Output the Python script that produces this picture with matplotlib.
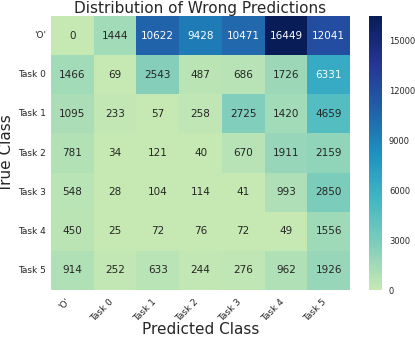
import numpy as np
import matplotlib
matplotlib.use("Agg")
import matplotlib.pyplot as plt
import seaborn as sns
from matplotlib.colors import ListedColormap

classes = ["'O'", "Task 0", "Task 1", "Task 2", "Task 3", "Task 4", "Task 5"]

row_O = [0, 1444, 10622, 9428, 10471, 16449, 12041]
row_t0 = [1466, 69, 2543, 487, 686, 1726, 6331]
row_t1 = [1095, 233, 57, 258, 2725, 1420, 4659]
row_t2 = [781, 34, 121, 40, 670, 1911, 2159]
row_t3 = [548, 28, 104, 114, 41, 993, 2850]
row_t4 = [450, 25, 72, 76, 72, 49, 1556]
row_t5 = [914, 252, 633, 244, 276, 962, 1926]

cm = np.array([row_O, row_t0, row_t1, row_t2, row_t3, row_t4, row_t5])

sns.set_style("white")
plt.rcParams['font.family'] = ['DejaVu Sans']

base = plt.get_cmap("YlGnBu")
cmap = ListedColormap(base(np.linspace(0.25, 1.0, 256)))

fig = plt.figure(figsize=(4.15, 3.39), dpi=100)
ax = fig.add_axes([51/415, 49/339, 299/415, 274/339])
cax = fig.add_axes([369/415, 49/339, 13/415, 274/339])

sns.heatmap(cm, annot=True, fmt="d", cmap=cmap, vmin=0, vmax=cm.max(),
            ax=ax, cbar_ax=cax, annot_kws={"size": 7.5},
            xticklabels=classes, yticklabels=classes,
            cbar_kws={"ticks": [0, 3000, 6000, 9000, 12000, 15000]})

ax.set_title("Distribution of Wrong Predictions", fontsize=11, color="#262626", pad=2)
ax.set_xlabel("Predicted Class", fontsize=11, color="#262626")
ax.xaxis.set_label_coords(0.5, -0.118)
ax.set_ylabel("True Class", fontsize=11, color="#262626")
ax.yaxis.set_label_coords(-0.125, 0.5)
ax.tick_params(axis="both", labelsize=6.5, length=0, colors="#262626")
ax.tick_params(axis="x", pad=5)
plt.setp(ax.get_xticklabels(), rotation=45, ha="right")
plt.setp(ax.get_yticklabels(), rotation=0)
cax.tick_params(labelsize=6, length=0, colors="#262626", pad=5)

fig.savefig("out.png", dpi=100)
